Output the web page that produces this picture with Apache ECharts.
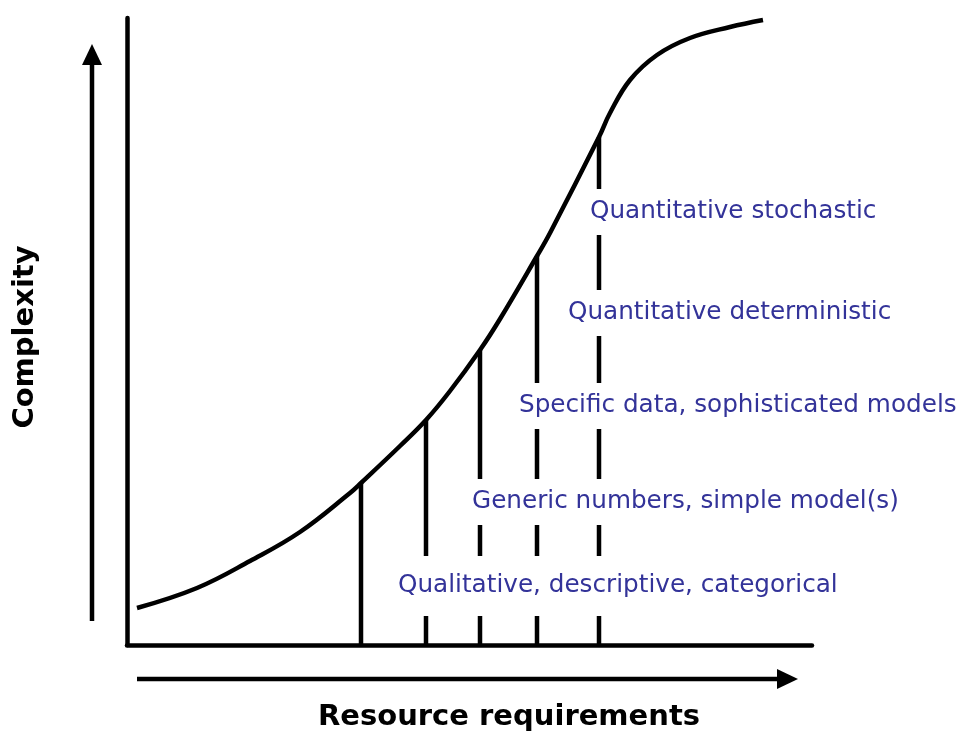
<!DOCTYPE html>
<html>
<head>
<meta charset="utf-8">
<script src="https://cdn.jsdelivr.net/npm/echarts@6/dist/echarts.min.js"></script>
<style>
html,body{margin:0;padding:0;background:#fff;}
#chart{width:962px;height:731px;}
</style>
</head>
<body>
<div id="chart"></div>
<script>
// S-curve points (x = resource requirements, y = complexity)
var curveX = [10, 70, 123, 173, 223, 234, 273, 299, 323, 353, 373, 410, 423, 472, 483, 503, 530, 563, 603, 636];
var curveY = [37, 57, 84, 113, 152, 162, 199, 225, 254, 295, 326, 389, 412, 508, 532, 565, 590, 607, 618, 625];

// vertical divider lines: x position and height (meets curve)
var dividerX = [234, 299, 353, 410, 472];
var dividerTop = [162, 225, 295, 389, 508];

// category labels: left position and vertical centre
var labelText = [
  "Qualitative, descriptive, categorical",
  "Generic numbers, simple model(s)",
  "Specific data, sophisticated models",
  "Quantitative deterministic",
  "Quantitative stochastic"
];
var labelX = [271, 345, 392, 441, 463];
var labelY = [59, 143, 239, 332, 433];

var xTitle = "Resource requirements";
var yTitle = "Complexity";

var chart = echarts.init(document.getElementById('chart'), null, {renderer: 'canvas'});

var series = [];
series.push({
  type: 'line',
  data: curveX.map(function (x, i) { return [x, curveY[i]]; }),
  smooth: 0.4,
  symbol: 'none',
  lineStyle: {color: '#000', width: 4.5},
  z: 2,
  silent: true
});
dividerX.forEach(function (x, i) {
  series.push({
    type: 'line',
    data: [[x, 0], [x, dividerTop[i]]],
    symbol: 'none',
    lineStyle: {color: '#000', width: 4.5},
    z: 2,
    silent: true
  });
});
series.push({
  type: 'scatter',
  symbolSize: 0,
  z: 10,
  silent: true,
  itemStyle: {opacity: 1},
  data: labelText.map(function (t, i) {
    var first = (i === 0);
    return {
      value: [labelX[i] - 4, labelY[i]],
      label: {
        show: true,
        formatter: t,
        position: 'right',
        distance: 0,
        color: '#333399',
        fontFamily: 'DejaVu Sans',
        fontSize: 24.7,
        lineHeight: 28,
        backgroundColor: '#fff',
        padding: first ? [9, 4, 23, 4] : [9, 4, 9, 4]
      }
    };
  })
});

var option = {
  backgroundColor: '#fff',
  animation: false,
  grid: {left: 127, right: 150, top: 18, bottom: 86, containLabel: false},
  xAxis: {
    type: 'value', min: 0, max: 685,
    axisLine: {show: true, lineStyle: {color: '#000', width: 4.5}},
    axisTick: {show: false}, axisLabel: {show: false}, splitLine: {show: false}
  },
  yAxis: {
    type: 'value', min: 0, max: 627,
    axisLine: {show: true, lineStyle: {color: '#000', width: 4.5}},
    axisTick: {show: false}, axisLabel: {show: false}, splitLine: {show: false}
  },
  series: series,
  graphic: [
    {type: 'line', shape: {x1: 92, y1: 621, x2: 92, y2: 62}, style: {stroke: '#000', lineWidth: 4.5}},
    {type: 'polygon', shape: {points: [[92, 44], [82, 65], [102, 65]]}, style: {fill: '#000'}},
    {type: 'line', shape: {x1: 137, y1: 679, x2: 780, y2: 679}, style: {stroke: '#000', lineWidth: 4.5}},
    {type: 'polygon', shape: {points: [[798, 679], [777, 669], [777, 689]]}, style: {fill: '#000'}},
    {type: 'text', x: 509, y: 717, style: {text: xTitle, font: 'bold 29px "DejaVu Sans"', fill: '#000', textAlign: 'center', textVerticalAlign: 'middle'}},
    {type: 'text', x: 25, y: 337, rotation: Math.PI / 2, style: {text: yTitle, font: 'bold 29px "DejaVu Sans"', fill: '#000', textAlign: 'center', textVerticalAlign: 'middle'}}
  ]
};
chart.setOption(option);
</script>
</body>
</html>
